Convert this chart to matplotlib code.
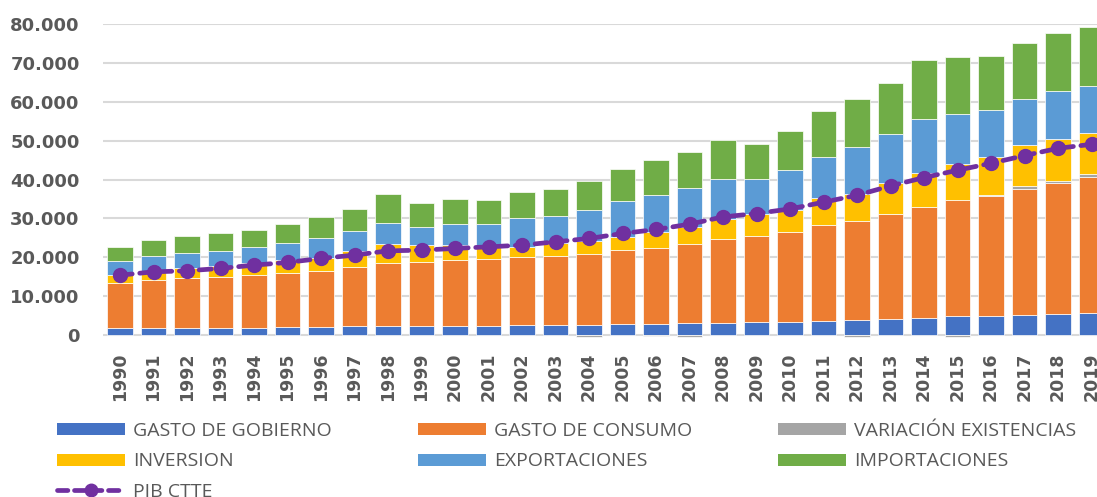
import matplotlib
matplotlib.use("Agg")
import matplotlib.pyplot as plt
import numpy as np
from matplotlib.patches import Patch
from matplotlib.lines import Line2D
from matplotlib.ticker import FuncFormatter

# Data (stacked components + PIB line)
years = [str(y) for y in range(1990, 2020)]

gasto_gobierno = [1720, 1720, 1880, 1880, 1880, 1970, 2140, 2230, 2400, 2400,
                  2400, 2400, 2650, 2570, 2660, 2830, 2920, 3090, 3090, 3350,
                  3430, 3600, 3780, 4120, 4460, 4890, 4890, 5150, 5410, 5660]
gasto_consumo = [11730, 12340, 12690, 13110, 13620, 13970, 14390, 15170, 16030, 16370,
                 16800, 17140, 17320, 17820, 18240, 18940, 19520, 20380, 21670, 22270,
                 23130, 24600, 25530, 27060, 28520, 29890, 31020, 32460, 33840, 35030]
variacion_existencias = [0, 0, 0, 0, 0, 0, 0, 0, 0, 0,
                         0, 0, 0, 0, -400, 200, -300, -500, 0, 0,
                         0, 0, -400, 0, 0, -400, 250, 770, 340, 780]
inversion = [1970, 2340, 2580, 2750, 3090, 3340, 3340, 4190, 5040, 4370,
             3940, 3160, 2570, 3340, 3340, 3370, 3960, 4370, 5060, 5660,
             5750, 7020, 7120, 7890, 8670, 9180, 9680, 10460, 10870, 10460]
exportaciones = [3520, 3900, 3850, 3850, 3950, 4450, 4990, 5070, 5400, 4700,
                 5570, 6010, 7460, 6940, 8070, 9100, 9770, 10030, 10280, 8900,
                 10180, 10720, 12080, 12780, 14060, 13030, 12180, 11830, 12440, 12260]
importaciones = [3760, 4120, 4620, 4630, 4450, 4980, 5400, 5910, 7380, 6090,
                 6250, 5990, 6840, 7040, 7360, 8300, 8820, 9170, 10110, 8920,
                 9950, 11640, 12160, 13010, 15160, 14550, 13880, 14570, 14810, 15060]
pib_ctte = [15400, 16270, 16530, 17150, 17990, 18690, 19720, 20570, 21670, 21850,
            22290, 22700, 23140, 23990, 24860, 26140, 27170, 28530, 30410, 31280,
            32470, 34190, 35990, 38380, 40540, 42420, 44220, 46190, 48070, 49100]

series = [
    ("GASTO DE GOBIERNO", gasto_gobierno, "#4472C4"),
    ("GASTO DE CONSUMO", gasto_consumo, "#ED7D31"),
    ("VARIACIÓN EXISTENCIAS", variacion_existencias, "#A5A5A5"),
    ("INVERSION", inversion, "#FFC000"),
    ("EXPORTACIONES", exportaciones, "#5B9BD5"),
    ("IMPORTACIONES", importaciones, "#70AD47"),
]
pib_color = "#7030A0"
text_color = "#595959"
grid_color = "#D9D9D9"

fig = plt.figure(figsize=(10.97, 4.97), dpi=100)
# plot area runs past the right edge, like the cropped original
ax = fig.add_axes([103.25 / 1097, 0.3189, 1005 / 1097, 0.6322])

x = np.arange(len(years))
pos_base = np.zeros(len(years))
neg_base = np.zeros(len(years))
for name, vals, color in series:
    v = np.array(vals, dtype=float)
    bottom = np.where(v >= 0, pos_base, neg_base)
    ax.bar(x, v, bottom=bottom, width=0.77, color=color,
           edgecolor="white", linewidth=0.5, zorder=2)
    pos_base = pos_base + np.where(v > 0, v, 0)
    neg_base = neg_base + np.where(v < 0, v, 0)

ax.plot(x, pib_ctte, color=pib_color, linewidth=3.4, linestyle=(0, (2.6, 1.6)),
        dash_capstyle="round", marker="o", markersize=10, zorder=4)

ax.set_xlim(-0.5, len(years) - 0.5)
ax.set_ylim(-900, 80000)
ax.set_yticks(range(0, 80001, 10000))
ax.yaxis.set_major_formatter(FuncFormatter(lambda v, p: f"{int(v):,}".replace(",", ".")))
ax.grid(axis="y", color=grid_color, linewidth=1.5, zorder=0)
ax.set_axisbelow(True)
for s in ax.spines.values():
    s.set_visible(False)

ax.set_xticks(x)
ax.set_xticklabels(years, rotation=90, va="top", ha="center")
ax.tick_params(axis="both", length=0, colors=text_color)
ax.tick_params(axis="x", pad=10)
ax.tick_params(axis="y", pad=17)
for lbl in ax.get_xticklabels():
    lbl.set_fontfamily("DejaVu Sans")
    lbl.set_fontweight("bold")
    lbl.set_fontsize(12.5)
for lbl in ax.get_yticklabels():
    lbl.set_fontfamily("DejaVu Sans")
    lbl.set_fontweight("bold")
    lbl.set_fontsize(13)

# legend: three columns placed at the original x positions
handles = {name: Patch(facecolor=color, label=name) for name, _, color in series}
pib_handle = Line2D([], [], color=pib_color, linewidth=3.4, linestyle=(0, (2.2, 1.4)),
                    dash_capstyle="round", marker="o", markersize=9, label="PIB CTTE")
columns = [
    (57, [handles["GASTO DE GOBIERNO"], handles["INVERSION"], pib_handle]),
    (418, [handles["GASTO DE CONSUMO"], handles["EXPORTACIONES"]]),
    (778, [handles["VARIACIÓN EXISTENCIAS"], handles["IMPORTACIONES"]]),
]
for xpix, hs in columns:
    leg = fig.legend(handles=hs, loc="upper left",
                     bbox_to_anchor=(xpix / 1097, (497 - 422) / 497),
                     frameon=False, borderpad=0, borderaxespad=0,
                     handlelength=3.5, handleheight=0.58, handletextpad=0.41,
                     labelspacing=0.64,
                     prop={"family": ["Open Sans", "DejaVu Sans"], "size": 14})
    for t in leg.get_texts():
        t.set_color(text_color)

fig.savefig("out.png", dpi=100)
